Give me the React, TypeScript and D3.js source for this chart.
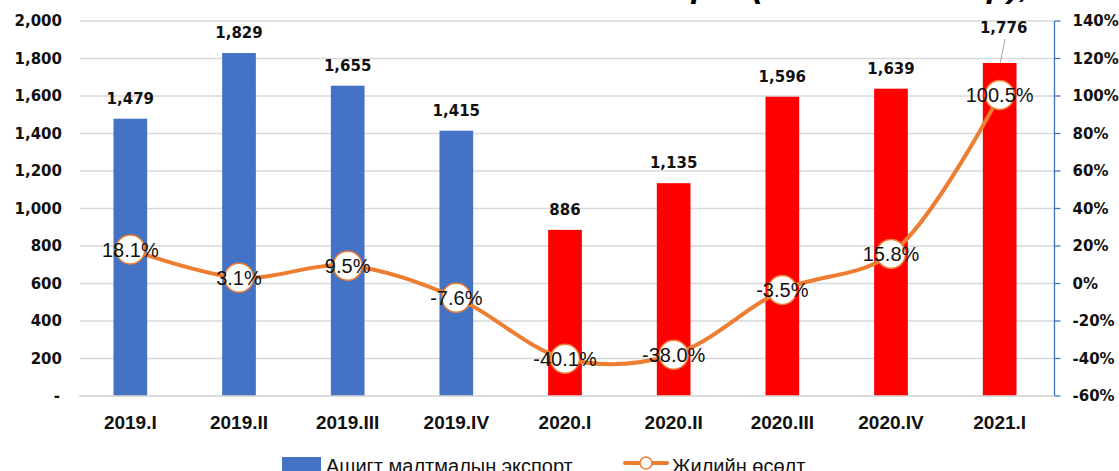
import React from 'react';
import * as d3 from 'd3';

const categories = ['2019.I', '2019.II', '2019.III', '2019.IV', '2020.I', '2020.II', '2020.III', '2020.IV', '2021.I'];
const exportValues = [1479, 1829, 1655, 1415, 886, 1135, 1596, 1639, 1776];
const growthValues = [18.1, 3.1, 9.5, -7.6, -40.1, -38.0, -3.5, 15.8, 100.5];
const leftTicks = [0, 200, 400, 600, 800, 1000, 1200, 1400, 1600, 1800, 2000];
const rightTicks = [-60, -40, -20, 0, 20, 40, 60, 80, 100, 120, 140];
const barSeriesName = 'Ашигт малтмалын экспорт';
const lineSeriesName = 'Жилийн өсөлт';
const title = 'Ашигт малтмалын экспорт (сая ам.доллар), жилийн өсөлт';

const W = 1119;
const H = 471;
const margin = { top: 21, right: 65, bottom: 75, left: 76 };
const wideFont = "'DejaVu Sans', sans-serif";
const narrowFont = "'Liberation Sans Narrow', 'Liberation Sans', sans-serif";
const blue = '#4472C4';
const red = '#FF0000';
const orange = '#ED7D31';

const App = () => {
  const x = d3
    .scaleBand<string>()
    .domain(categories)
    .range([margin.left, W - margin.right])
    .padding(0);
  const yL = d3.scaleLinear().domain([0, 2000]).range([H - margin.bottom, margin.top]);
  const yR = d3.scaleLinear().domain([-60, 140]).range([H - margin.bottom, margin.top]);
  const cx = (c: string) => (x(c) as number) + x.bandwidth() / 2;
  const barW = x.bandwidth() * 0.31;
  const fmt = d3.format(',');

  const line = d3
    .line<number>()
    .x((_, i) => cx(categories[i]))
    .y(d => yR(d))
    .curve(d3.curveCatmullRom.alpha(0.5));

  const x0 = margin.left;
  const x1 = W - margin.right + 0.5;

  return (
    <div style={{ position: 'fixed', left: 0, top: 0 }}>
      <svg width={W} height={H} style={{ display: 'block', background: '#fff' }}>
        {/* title, mostly above the picture */}
        <text x={765} y={-3} textAnchor="middle" fontFamily={narrowFont} fontSize={34} fontWeight="bold" fontStyle="italic" fill="#000">
          {title}
        </text>

        {/* gridlines */}
        {leftTicks.map(t => (
          <line key={t} x1={x0 + 4} x2={x1} y1={yL(t)} y2={yL(t)} stroke="#d9d9d9" strokeWidth={1.5} />
        ))}

        {/* left tick labels */}
        {leftTicks.map(t => (
          <text key={t} x={t === 0 ? 60 : 62} y={yL(t)} dy="0.35em" textAnchor="end" fontFamily={wideFont} fontSize={15} fontWeight="bold" fill="#111">
            {t === 0 ? '-' : fmt(t)}
          </text>
        ))}

        {/* right axis */}
        <line x1={x1} x2={x1} y1={yR(140)} y2={yR(-60)} stroke={blue} strokeWidth={1.3} />
        {rightTicks.map(t => (
          <g key={t}>
            <line x1={x1} x2={x1 + 6} y1={yR(t)} y2={yR(t)} stroke={blue} strokeWidth={1.3} />
            <text x={x1 + 18} y={yR(t)} dy="0.35em" fontFamily={wideFont} fontSize={15} fontWeight="bold" fill="#111">
              {t}%
            </text>
          </g>
        ))}

        {/* bars */}
        {exportValues.map((v, i) => (
          <rect
            key={categories[i]}
            x={cx(categories[i]) - barW / 2}
            y={yL(v)}
            width={barW}
            height={yL(0) - yL(v)}
            fill={categories[i].startsWith('2019') ? blue : red}
          />
        ))}

        {/* baseline */}
        <line x1={x0 + 3} x2={x1} y1={yL(0)} y2={yL(0)} stroke="#d9d9d9" strokeWidth={1.5} />

        {/* bar labels */}
        {exportValues.map((v, i) => {
          const last = i === exportValues.length - 1;
          const lx = cx(categories[i]) + (last ? 4 : 0);
          const ly = last ? margin.top + 12 : yL(v) - 15;
          return (
            <g key={categories[i]}>
              {last && (
                <line x1={cx(categories[i]) + 0.5} y1={yL(v)} x2={lx + 1.5} y2={ly + 6} stroke="#a6a6a6" strokeWidth={1} />
              )}
              <text x={lx} y={ly} textAnchor="middle" fontFamily={wideFont} fontSize={15} fontWeight="bold" fill="#111">
                {fmt(v)}
              </text>
            </g>
          );
        })}

        {/* x labels */}
        {categories.map(c => (
          <text key={c} x={cx(c)} y={429} textAnchor="middle" fontFamily={narrowFont} fontSize={19} fontWeight="bold" fill="#111">
            {c}
          </text>
        ))}

        {/* growth line */}
        <path d={line(growthValues) || ''} fill="none" stroke={orange} strokeWidth={4} strokeLinecap="round" />
        {growthValues.map((g, i) => (
          <circle key={categories[i]} cx={cx(categories[i])} cy={yR(g)} r={14.5} fill="#fff" stroke={orange} strokeWidth={1.5} />
        ))}
        {growthValues.map((g, i) => (
          <text key={categories[i]} x={cx(categories[i])} y={yR(g)} dy="0.36em" textAnchor="middle" fontFamily={narrowFont} fontSize={20} fill="#111">
            {g.toFixed(1)}%
          </text>
        ))}

        {/* legend */}
        <rect x={282} y={457} width={39} height={14} fill={blue} />
        <text x={326} y={473} fontFamily={narrowFont} fontSize={20} fill="#111">
          {barSeriesName}
        </text>
        <line x1={625} x2={667} y1={463} y2={463} stroke={orange} strokeWidth={4} strokeLinecap="round" />
        <circle cx={646} cy={463} r={6} fill="#fff" stroke={orange} strokeWidth={1.5} />
        <text x={672} y={473} fontFamily={narrowFont} fontSize={20} fill="#111">
          {lineSeriesName}
        </text>
      </svg>
    </div>
  );
};

export default App;
